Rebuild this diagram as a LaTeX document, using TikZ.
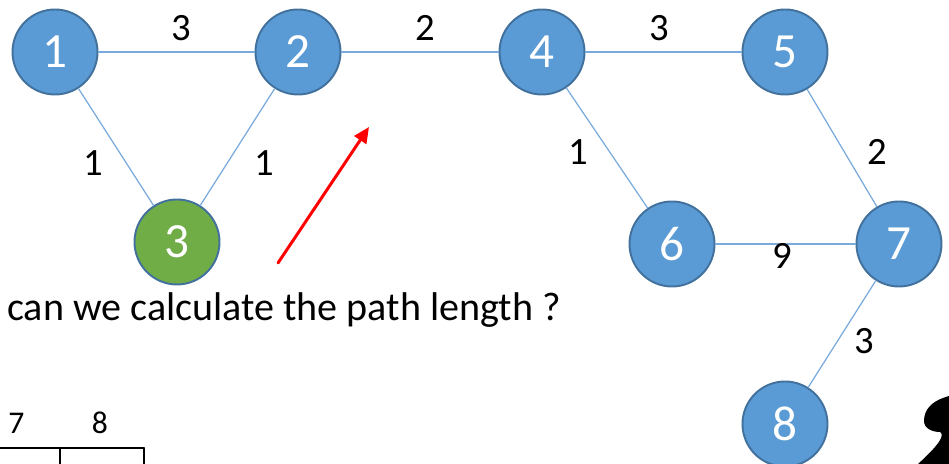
\documentclass[tikz,border=0pt]{standalone}
\usepackage{fontspec}
\setmainfont{Carlito}
\usepackage{tikz}
\usetikzlibrary{arrows.meta}
\usepackage{xcolor}
\definecolor{vblue}{RGB}{91,155,213}
\definecolor{vline}{RGB}{65,113,156}
\definecolor{vgreen}{RGB}{112,173,71}
\definecolor{eblue}{RGB}{120,170,220}

\begin{document}
\begin{tikzpicture}[>={Triangle[length=9pt,width=8pt]},line cap=round,
  vertex/.style={circle,fill=vblue,draw=vline,line width=1.1pt,minimum size=1.7cm,inner sep=0pt,
    text=white,font=\fontsize{28}{28}\selectfont},
  start/.style={vertex,fill=vgreen},
  wire/.style={draw=eblue,line width=0.7pt},
  wlabel/.style={font=\fontsize{22}{22}\selectfont,inner sep=0pt}]
\useasboundingbox (0,0) rectangle (18.98,9.28);
\node[vertex] (n1) at (1.10,8.24) {1};
\node[vertex] (n2) at (5.96,8.24) {2};
\node[start]  (n3) at (3.54,4.44) {3};
\node[vertex] (n4) at (10.84,8.24) {4};
\node[vertex] (n5) at (15.70,8.24) {5};
\node[vertex] (n6) at (13.44,4.40) {6};
\node[vertex] (n7) at (17.98,4.40) {7};
\node[vertex] (n8) at (15.70,0.80) {8};
\draw[wire] (n1) -- node[wlabel,xshift=0.09cm,yshift=0.48cm] (w12) {3} (n2);
\draw[wire] (n2) -- node[wlabel,xshift=0.10cm,yshift=0.48cm] (w24) {2} (n4);
\draw[wire] (n4) -- node[wlabel,xshift=-0.09cm,yshift=0.48cm] (w45) {3} (n5);
\draw[wire] (n1) -- node[wlabel,xshift=-0.46cm,yshift=-0.32cm] (w13) {1} (n3);
\draw[wire] (n2) -- node[wlabel,xshift=0.53cm,yshift=-0.32cm] (w23) {1} (n3);
\draw[wire] (n4) -- node[wlabel,xshift=-0.58cm,yshift=-0.08cm] (w46) {1} (n6);
\draw[wire] (n5) -- node[wlabel,xshift=0.70cm,yshift=-0.08cm] (w57) {2} (n7);
\draw[wire] (n6) -- node[wlabel,xshift=-0.07cm,yshift=-0.24cm] (w67) {9} (n7);
\draw[wire] (n7) -- node[wlabel,xshift=0.44cm,yshift=-0.14cm] (w78) {3} (n8);
\coordinate (tail) at (5.56,4.02);
\coordinate (tip) at (7.38,6.74);
\draw[->,red,line width=1.7pt] (tail) -- (tip);
\node[anchor=west,inner sep=0pt,font=\fontsize{22.8}{23}\selectfont] (ask) at (0.14,3.08) {can we calculate the path length ?};
\node[font=\fontsize{18}{18}\selectfont,inner sep=0pt] (c7) at (0.33,0.82) {7};
\node[font=\fontsize{18}{18}\selectfont,inner sep=0pt] (c8) at (2.00,0.82) {8};
\draw[line width=1.2pt] (0,0.32) -- (2.88,0.32);
\draw[line width=1.2pt,line cap=butt] (1.20,0.32) -- (1.20,0);
\draw[line width=1.2pt,line cap=butt] (2.88,0.32) -- (2.88,0);
\fill (18.98,1.36) -- (18.86,1.32) to[out=200,in=90] (18.48,0.86) to[out=-90,in=180] (18.80,0.64)
  .. controls (18.90,0.58) and (18.80,0.40) .. (18.36,0) -- (18.98,0) -- cycle;
\end{tikzpicture}
\end{document}
